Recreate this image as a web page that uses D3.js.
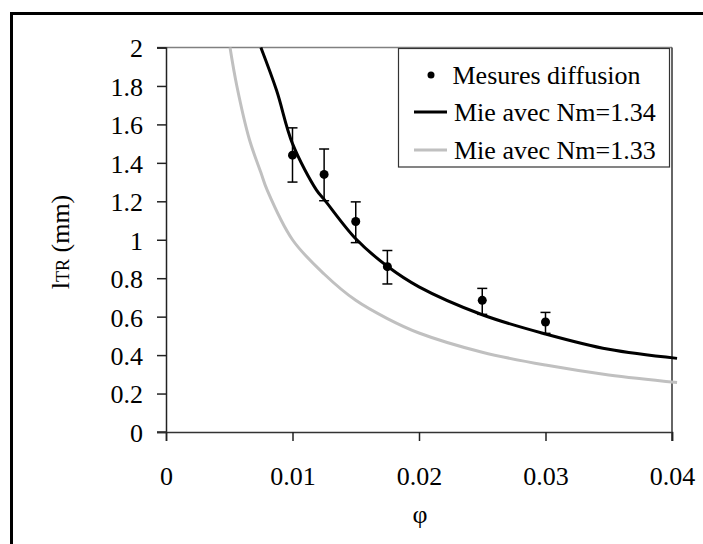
<!DOCTYPE html>
<html><head><meta charset="utf-8">
<script src="https://cdn.jsdelivr.net/npm/d3@7"></script>
<style>body{margin:0;background:#fff;} svg{display:block;} svg text{font-family:"Liberation Serif","Times New Roman",Times,"DejaVu Serif",serif !important;}</style>
</head><body>
<script>
// Measured points (phi, l_TR, error low, error high)
const measPhi = [0.01, 0.0125, 0.015, 0.0175, 0.025, 0.03];
const measVal = [1.44, 1.34, 1.095, 0.86, 0.685, 0.572];
const measLow = [1.30, 1.203, 0.985, 0.77, 0.612, 0.513];
const measHigh = [1.582, 1.472, 1.197, 0.944, 0.747, 0.622];
// Mie Nm=1.34 curve
const mie134Phi = [0.0075, 0.00875, 0.01, 0.0119, 0.0125, 0.015, 0.0175, 0.02, 0.025, 0.03, 0.035, 0.0404];
const mie134Val = [2.0, 1.775, 1.50, 1.258, 1.21, 1.005, 0.862, 0.755, 0.61, 0.51, 0.43, 0.383];
// Mie Nm=1.33 curve
const mie133Phi = [0.00506, 0.0056, 0.0066, 0.0075, 0.008, 0.01, 0.0125, 0.015, 0.0175, 0.02, 0.025, 0.03, 0.035, 0.0404];
const mie133Val = [2.0, 1.80, 1.52, 1.35, 1.258, 1.0, 0.822, 0.685, 0.59, 0.515, 0.415, 0.348, 0.297, 0.258];
const xTicks = [0, 0.01, 0.02, 0.03, 0.04];
const xTickLabels = ["0", "0.01", "0.02", "0.03", "0.04"];
const yTicks = [0, 0.2, 0.4, 0.6, 0.8, 1, 1.2, 1.4, 1.6, 1.8, 2];
const yTickLabels = ["0", "0.2", "0.4", "0.6", "0.8", "1", "1.2", "1.4", "1.6", "1.8", "2"];
const legendLabels = ["Mesures diffusion", "Mie avec Nm=1.34", "Mie avec Nm=1.33"];

const W = 703, H = 544;
const svg = d3.select("body").append("svg").attr("width", W).attr("height", H);

// outer frame
svg.append("rect").attr("x", 11.5).attr("y", 13.5).attr("width", 720).attr("height", 560)
  .attr("fill", "none").attr("stroke", "#000").attr("stroke-width", 3);

const x = d3.scaleLinear().domain([0, 0.04]).range([166, 672]);
const y = d3.scaleLinear().domain([0, 2]).range([432, 47.5]);

const fs = 26;
// plot area border (top, right)
svg.append("line").attr("x1", 157).attr("x2", 672).attr("y1", y(2)).attr("y2", y(2))
  .attr("stroke", "#808080").attr("stroke-width", 1.5);
svg.append("line").attr("x1", 672).attr("x2", 672).attr("y1", y(2)).attr("y2", 441)
  .attr("stroke", "#333").attr("stroke-width", 1.5);

// y axis
const yAxis = d3.axisLeft(y).tickValues(yTicks).tickFormat((d, i) => yTickLabels[i]).tickSize(9).tickPadding(14);
const gy = svg.append("g").attr("transform", "translate(166,0)").call(yAxis);
gy.attr("font-family", null);
gy.select(".domain").attr("stroke", "#222").attr("stroke-width", 1.5);
gy.selectAll(".tick line").attr("stroke", "#222").attr("stroke-width", 1.5);
gy.selectAll(".tick text").attr("font-size", fs).attr("fill", "#000").attr("dy", "0.36em");

// x axis
const xAxis = d3.axisBottom(x).tickValues(xTicks).tickFormat((d, i) => xTickLabels[i]).tickSize(9).tickPadding(26);
const gx = svg.append("g").attr("transform", "translate(0,432)").call(xAxis);
gx.attr("font-family", null);
gx.select(".domain").attr("stroke", "#333").attr("stroke-width", 1.5);
gx.selectAll(".tick line").attr("stroke", "#222").attr("stroke-width", 1.5);
gx.selectAll(".tick text").attr("font-size", fs).attr("fill", "#000");
svg.append("line").attr("x1", 157).attr("x2", 166).attr("y1", 432).attr("y2", 432).attr("stroke", "#333").attr("stroke-width", 1.5);

// curves
const line = d3.line().x(d => x(d[0])).y(d => y(d[1])).curve(d3.curveCatmullRom.alpha(0.5));
const d133 = mie133Phi.map((p, i) => [p, mie133Val[i]]);
const d134 = mie134Phi.map((p, i) => [p, mie134Val[i]]);
svg.append("path").datum(d133).attr("d", line).attr("fill", "none").attr("stroke", "#c0c0c0").attr("stroke-width", 3);
svg.append("path").datum(d134).attr("d", line).attr("fill", "none").attr("stroke", "#000").attr("stroke-width", 3);

// error bars + points
const meas = measPhi.map((p, i) => ({p, v: measVal[i], lo: measLow[i], hi: measHigh[i]}));
const eb = svg.append("g").attr("stroke", "#000").attr("stroke-width", 1.5);
meas.forEach(d => {
  eb.append("line").attr("x1", x(d.p)).attr("x2", x(d.p)).attr("y1", y(d.lo)).attr("y2", y(d.hi));
  eb.append("line").attr("x1", x(d.p) - 5).attr("x2", x(d.p) + 5).attr("y1", y(d.lo)).attr("y2", y(d.lo));
  eb.append("line").attr("x1", x(d.p) - 5).attr("x2", x(d.p) + 5).attr("y1", y(d.hi)).attr("y2", y(d.hi));
});
svg.append("g").selectAll("circle").data(meas).join("circle")
  .attr("cx", d => x(d.p)).attr("cy", d => y(d.v)).attr("r", 4.5).attr("fill", "#000");

// legend
const lg = svg.append("g");
lg.append("rect").attr("x", 398.5).attr("y", 48.5).attr("width", 271).attr("height", 118.5)
  .attr("fill", "#fff").attr("stroke", "#333").attr("stroke-width", 1.2);
const ly = [75, 112, 150];
lg.append("circle").attr("cx", 431).attr("cy", ly[0]).attr("r", 3.5).attr("fill", "#000");
lg.append("line").attr("x1", 414).attr("x2", 447).attr("y1", ly[1]).attr("y2", ly[1]).attr("stroke", "#000").attr("stroke-width", 3);
lg.append("line").attr("x1", 414).attr("x2", 447).attr("y1", ly[2]).attr("y2", ly[2]).attr("stroke", "#c0c0c0").attr("stroke-width", 3);
legendLabels.forEach((t, i) => {
  lg.append("text").attr("x", i === 0 ? 452.5 : 454).attr("y", ly[i]).attr("dy", "0.34em")
    .attr("font-size", fs).text(t);
});

// axis titles
svg.append("text").attr("x", 420).attr("y", 523).attr("text-anchor", "middle").attr("font-size", fs).text("φ");
const yt = svg.append("text").attr("transform", "translate(69,242) rotate(-90)").attr("text-anchor", "middle").attr("font-size", fs);
yt.append("tspan").text("l");
yt.append("tspan").attr("font-size", 18).text("TR");
yt.append("tspan").text(" (mm)");
</script>
</body></html>
